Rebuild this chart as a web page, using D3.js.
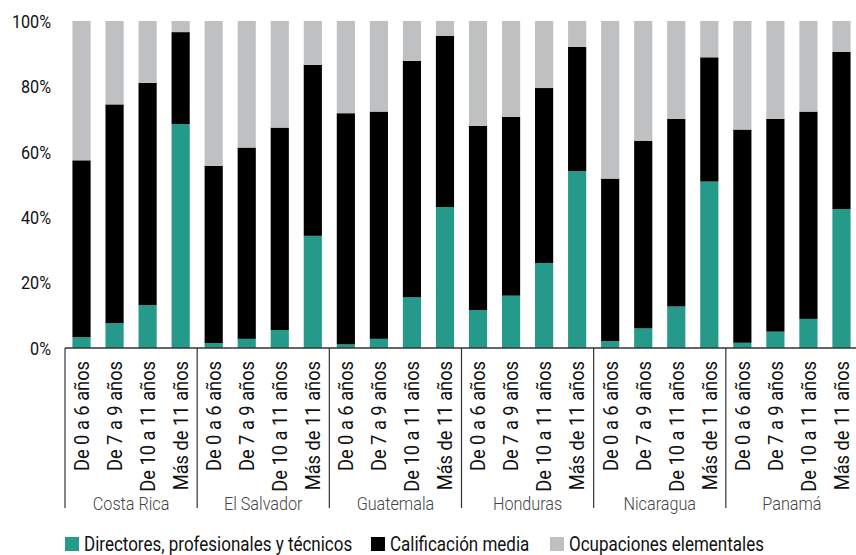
<!DOCTYPE html>
<html>
<head>
<meta charset="utf-8">
<script src="https://cdn.jsdelivr.net/npm/d3@7"></script>
<style>
  body { margin: 0; background: #fff; }
  text { font-family: Roboto, "Noto Sans", sans-serif; }
</style>
</head>
<body>
<div id="chart"></div>
<script>
// countries and schooling groups
var countries = ["Costa Rica", "El Salvador", "Guatemala", "Honduras", "Nicaragua", "Panamá"];
var levels = ["De 0 a 6 años", "De 7 a 9 años", "De 10 a 11 años", "Más de 11 años"];
var seriesNames = ["Directores, profesionales y técnicos", "Calificación media", "Ocupaciones elementales"];
var seriesColors = ["#259a8a", "#000000", "#bfc0c2"];

// shares in %, 4 levels per country in order
var directores = [3.3, 7.6, 13.1, 68.5,  1.5, 2.8, 5.5, 34.3,  1.1, 2.8, 15.5, 43.1,
                  11.6, 16.0, 26.0, 54.1,  2.1, 6.0, 12.7, 50.9,  1.6, 5.0, 8.9, 42.5];
var media = [54.1, 66.9, 68.0, 28.1,  54.2, 58.5, 61.9, 52.3,  70.7, 69.5, 72.3, 52.4,
             56.3, 54.7, 53.5, 38.0,  49.7, 57.4, 57.4, 38.0,  65.2, 65.1, 63.4, 48.1];
var elementales = [42.6, 25.5, 18.9, 3.4,  44.3, 38.7, 32.6, 13.4,  28.2, 27.7, 12.2, 4.5,
                   32.1, 29.3, 20.5, 7.9,  48.2, 36.6, 29.9, 11.1,  33.2, 29.9, 27.7, 9.4];
var yTicks = [0, 20, 40, 60, 80, 100];

var W = 856, H = 555;
var margin = { top: 21, right: 0, bottom: 207, left: 65 };
var plotW = 858 - margin.left, plotH = H - margin.top - margin.bottom;
var narrow = 0.85; // squeeze text to look like the condensed original font

var svg = d3.select("#chart").append("svg")
    .attr("width", W)
    .attr("height", H);
var g = svg.append("g").attr("transform", "translate(" + margin.left + "," + margin.top + ")");

var rows = [];
countries.forEach(function(c, ci) {
  levels.forEach(function(l, li) {
    var i = ci * 4 + li;
    rows.push({ key: c + "|" + l, country: c, level: l, d: directores[i], m: media[i], e: elementales[i] });
  });
});

var x = d3.scaleBand().domain(rows.map(function(r) { return r.key; }))
    .range([0, plotW]).paddingInner(0.45).paddingOuter(0.225);
var y = d3.scaleLinear().domain([0, 100]).range([plotH, 0]);

var stack = d3.stack().keys(["d", "m", "e"]);
var layers = stack(rows);

g.selectAll(".layer")
  .data(layers)
  .enter().append("g")
    .attr("fill", function(d, i) { return seriesColors[i]; })
  .selectAll("rect")
  .data(function(d) { return d; })
  .enter().append("rect")
    .attr("x", function(d) { return x(d.data.key); })
    .attr("width", x.bandwidth())
    .attr("y", function(d) { return y(Math.min(d[1], 100)); })
    .attr("height", function(d) { return y(d[0]) - y(Math.min(d[1], 100)); });

// y tick labels, no axis line
g.selectAll(".ytick")
  .data(yTicks)
  .enter().append("text")
    .attr("transform", function(d) { return "translate(-14," + y(d) + ") scale(" + narrow + ",1)"; })
    .attr("text-anchor", "end")
    .attr("dy", "0.36em")
    .attr("font-size", 19)
    .attr("fill", "#111")
    .text(function(d) { return d + "%"; });

// x axis line
g.append("line")
    .attr("x1", 0).attr("x2", plotW)
    .attr("y1", plotH).attr("y2", plotH)
    .attr("stroke", "#333").attr("stroke-width", 1.5);

// group separators
var groupW = plotW / countries.length;
d3.range(countries.length).forEach(function(i) {
  g.append("line")
    .attr("x1", i * groupW).attr("x2", i * groupW)
    .attr("y1", plotH).attr("y2", plotH + 160)
    .attr("stroke", "#333").attr("stroke-width", 1.2);
});

// rotated level labels
g.selectAll(".lvl")
  .data(rows)
  .enter().append("text")
    .attr("transform", function(d) {
      return "translate(" + (x(d.key) + x.bandwidth() / 2) + "," + (plotH + 13) + ") rotate(-90) scale(0.87,1)";
    })
    .attr("text-anchor", "end")
    .attr("dy", "0.35em")
    .attr("font-size", 21)
    .attr("fill", "#111")
    .text(function(d) { return d.level; });

// country labels
g.selectAll(".ctry")
  .data(countries)
  .enter().append("text")
    .attr("transform", function(d, i) { return "translate(" + ((i + 0.5) * groupW) + "," + (plotH + 162) + ") scale(0.9,1)"; })
    .attr("text-anchor", "middle")
    .attr("font-size", 18)
    .attr("font-weight", 300)
    .attr("fill", "#444")
    .text(function(d) { return d; });

// legend
var legendX = [65, 371, 550];
var legend = svg.selectAll(".leg")
  .data(seriesNames)
  .enter().append("g")
    .attr("transform", function(d, i) { return "translate(" + legendX[i] + ",537)"; });
legend.append("rect")
    .attr("width", 14).attr("height", 14)
    .attr("fill", function(d, i) { return seriesColors[i]; });
legend.append("text")
    .attr("transform", "translate(19,14) scale(" + narrow + ",1)")
    .attr("font-size", 20)
    .attr("fill", "#111")
    .text(function(d) { return d; });
</script>
</body>
</html>
